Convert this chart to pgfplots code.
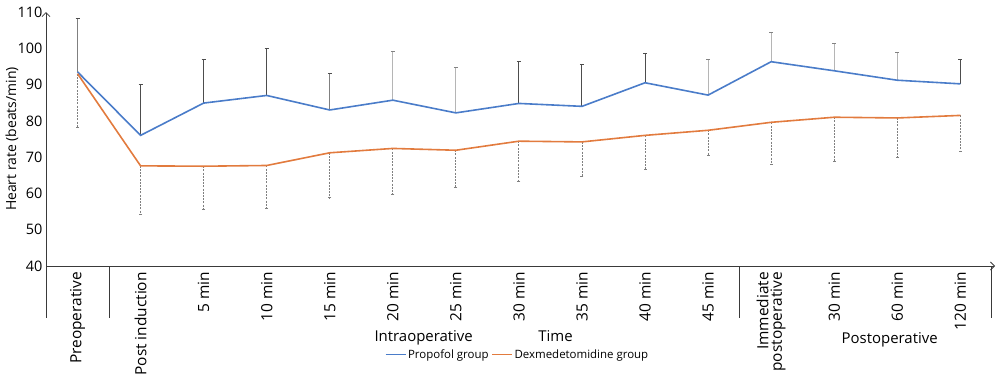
\documentclass[border=0pt]{standalone}
\usepackage{pgfplots}
\pgfplotsset{compat=1.18}
\usepackage{fontspec}
\setmainfont{Open Sans}
\usetikzlibrary{arrows.meta}
\definecolor{propblue}{HTML}{4A7CC9}
\definecolor{dexorange}{HTML}{E27B3E}
\definecolor{axgray}{HTML}{3A3A3A}
\definecolor{errdark}{HTML}{4D4D4D}
\definecolor{errlight}{HTML}{B5B5B5}
\definecolor{errdash}{HTML}{808080}
\begin{document}
\begin{tikzpicture}
\begin{axis}[
  scale only axis, width=949bp, height=254bp,
  xmin=-0.5, xmax=14.55, ymin=40, ymax=110,
  axis lines=left,
  axis line style={axgray, line width=0.8bp},
  x axis line style={-{Straight Barb[length=4bp,width=8bp]}},
  y axis line style={-{Straight Barb[length=4bp,width=8bp]}},
  xtick={0,...,14},
  xticklabels={Preoperative, Post induction, 5 min, 10 min, 15 min, 20 min, 25 min, 30 min, 35 min, 40 min, 45 min, {Immediate\\postoperative}, 30 min, 60 min, 120 min},
  xticklabel style={rotate=90, anchor=east, align=right, inner sep=2bp, font=\fontsize{15.5}{13.5}\selectfont},
  xticklabel shift=4bp,
  ytick={40,50,...,110},
  yticklabel style={font=\fontsize{14.5}{15}\selectfont},
  major tick length=0,
  /pgf/number format/assume math mode=true,
  ylabel={Heart rate (beats/min)},
  ylabel style={at={(axis description cs:-0.036,0.5)}, anchor=center, font=\fontsize{14}{15}\selectfont},
  clip=false,
  legend style={at={(axis description cs:0.497,-0.35)}, anchor=center, draw=none, fill=none,
    legend columns=2, font=\fontsize{11.5}{13}\selectfont,
    /tikz/every even column/.append style={column sep=1bp}},
  legend image code/.code={\draw[#1, line width=1bp] (0bp,0bp) -- (20bp,0bp);},
]
% Propofol error bars (upper), dark
\addplot[forget plot, draw=none, mark=none, error bars/.cd, y dir=plus, y explicit,
  error mark=|,
  error bar style={draw=errdark, line width=1bp},
  error mark options={mark size=2bp, line width=1bp, draw=errdark}]
  coordinates {(1,76) +- (0,13.9) (2,84.9) +- (0,12) (3,87) +- (0,13) (7,84.8) +- (0,11.5)
               (8,84) +- (0,11.5) (9,90.5) +- (0,8.2) (14,90.2) +- (0,6.6)};
% Propofol error bars (upper), medium
\addplot[forget plot, draw=none, mark=none, error bars/.cd, y dir=plus, y explicit,
  error mark=|,
  error bar style={draw=errdash, line width=1bp},
  error mark options={mark size=2bp, line width=1bp, draw=errdark}]
  coordinates {(0,93.5) +- (0,14.6) (4,83) +- (0,10.1)};
% Propofol error bars (upper), light
\addplot[forget plot, draw=none, mark=none, error bars/.cd, y dir=plus, y explicit,
  error mark=|,
  error bar style={draw=errlight, line width=1bp},
  error mark options={mark size=2bp, line width=1bp, draw=errdark!70}]
  coordinates {(5,85.7) +- (0,13.3) (6,82.2) +- (0,12.6) (10,87.1) +- (0,9.9)
               (11,96.3) +- (0,8.1) (12,93.8) +- (0,7.6) (13,91.2) +- (0,7.7)};
% Dexmedetomidine error bars (lower), dashed
\addplot[forget plot, draw=none, mark=none, error bars/.cd, y dir=minus, y explicit,
  error mark=|,
  error bar style={draw=errdash, line width=0.9bp, dash pattern=on 2bp off 1.2bp},
  error mark options={mark size=1.5bp, line width=0.9bp, draw=errdash, solid}]
  coordinates {(0,93) +- (0,14.8) (1,67.6) +- (0,13.4) (2,67.5) +- (0,11.9) (3,67.7) +- (0,11.9)
               (4,71.2) +- (0,12.4) (5,72.4) +- (0,12.7) (6,71.9) +- (0,10.3) (7,74.4) +- (0,11.2)
               (8,74.2) +- (0,9.6) (9,76) +- (0,9.5) (10,77.4) +- (0,7) (11,79.6) +- (0,11.7)
               (12,81) +- (0,12.1) (13,80.8) +- (0,11) (14,81.5) +- (0,10)};
% Means
\addplot[propblue, line width=1.6bp, mark=none] coordinates {
  (0,93.5) (1,76) (2,84.9) (3,87) (4,83) (5,85.7) (6,82.2) (7,84.8)
  (8,84) (9,90.5) (10,87.1) (11,96.3) (12,93.8) (13,91.2) (14,90.2)};
\addlegendentry{Propofol group}
\addplot[dexorange, line width=1.6bp, mark=none] coordinates {
  (0,93) (1,67.6) (2,67.5) (3,67.7) (4,71.2) (5,72.4) (6,71.9) (7,74.4)
  (8,74.2) (9,76) (10,77.4) (11,79.6) (12,81) (13,80.8) (14,81.5)};
\addlegendentry{Dexmedetomidine group}
% separators
\draw[axgray, line width=0.8bp] (axis cs:-0.5,40) -- (axis cs:-0.5,25.7);
\draw[axgray, line width=0.8bp] (axis cs:0.5,40) -- (axis cs:0.5,25.7);
\draw[axgray, line width=0.8bp] (axis cs:10.5,40) -- (axis cs:10.5,25.7);
\draw[axgray, line width=0.8bp] (axis cs:14.5,40) -- (axis cs:14.5,25.7);
% group labels
\node[font=\fontsize{15}{16}\selectfont] at (axis description cs:0.398,-0.283) {Intraoperative};
\node[font=\fontsize{15}{16}\selectfont] at (axis description cs:0.537,-0.276) {Time};
\node[font=\fontsize{15}{16}\selectfont] at (axis description cs:0.889,-0.291) {Postoperative};
\coordinate (sw) at (rel axis cs:0,0);
\end{axis}
\path (sw) ++(-46bp,-126bp) rectangle ++(1000bp,392bp);
\end{tikzpicture}
\end{document}
